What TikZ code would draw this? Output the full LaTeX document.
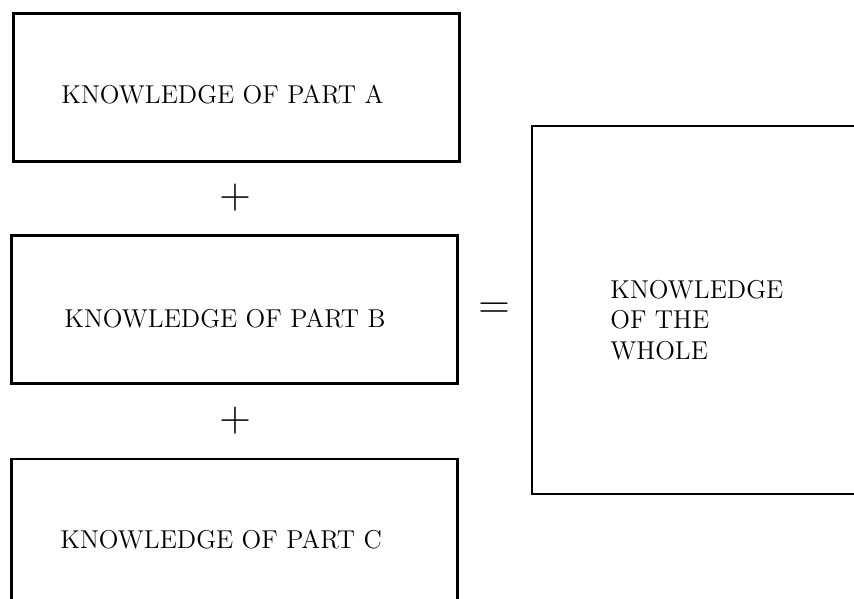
\documentclass[tikz,border=0pt]{standalone}
\usepackage{tikz}
\usetikzlibrary{positioning}

\begin{document}
\begin{tikzpicture}[
        x=0.02cm, y=-0.02cm,
        part/.style={draw=black, line width=1.6pt, inner sep=0pt,
                     minimum width=8.92cm, minimum height=2.96cm},
        whole/.style={draw=black, line width=1.3pt, inner sep=0pt,
                      minimum width=6.76cm, minimum height=7.36cm},
        lbl/.style={font=\fontsize{14.7}{17.3}\selectfont, inner sep=0pt},
        sym/.style={font=\fontsize{25}{30}\selectfont, inner sep=0pt}
    ]
    \useasboundingbox (0,0) rectangle (854,598);
    \clip (0,0) rectangle (854,598);
    % Parts
    \node[part] (A) at (236.5, 87.5) {};
    \node[part] (B) at (234.5, 309.5) {};
    \node[part] (C) at (234.5, 533) {};
    \node[lbl, anchor=base west] (tA) at (61, 103) {KNOWLEDGE OF PART A};
    \node[lbl, anchor=base west] (tB) at (64, 327) {KNOWLEDGE OF PART B};
    \node[lbl, anchor=base west] (tC) at (60, 548) {KNOWLEDGE OF PART C};
    % Operators
    \node[sym] (p1) at (235, 198) {$+$};
    \node[sym] (p2) at (235, 421) {$+$};
    \node[sym, font=\fontsize{24}{30}\selectfont] (eq) at (494, 311) {$=$};
    % Whole
    \node[whole] (W) at (701, 310) {};
    \node[lbl, anchor=north west, align=left] (tW) at (610, 280)
        {KNOWLEDGE\\OF THE\\WHOLE};
\end{tikzpicture}
\end{document}
